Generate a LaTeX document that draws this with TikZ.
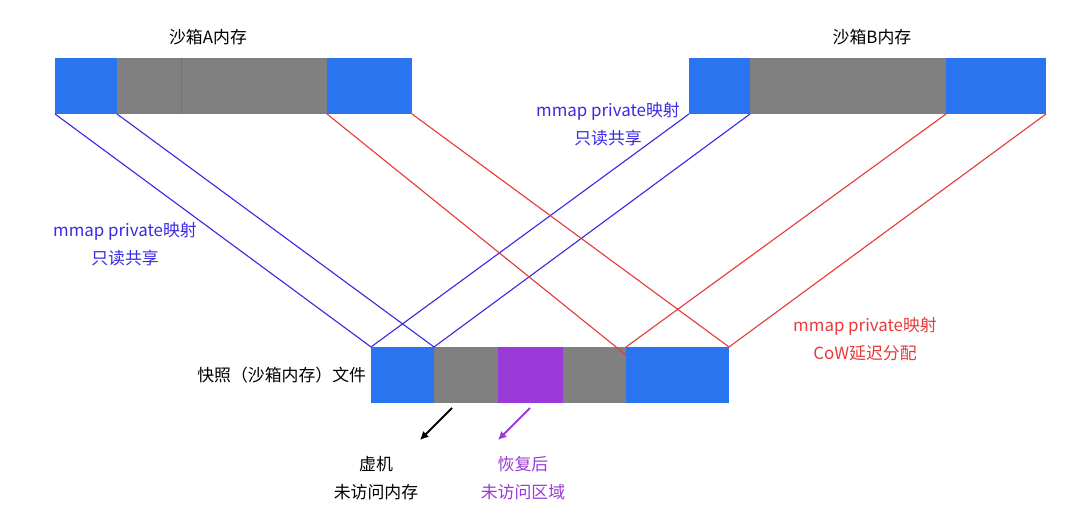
\documentclass[tikz,border=0pt]{standalone}
\usepackage{fontspec}
\setmainfont{Noto Sans CJK SC}
\usetikzlibrary{arrows.meta}
\definecolor{memblue}{HTML}{2A74F0}
\definecolor{memgray}{HTML}{808080}
\definecolor{mempurple}{HTML}{9A3AD8}
\definecolor{mapblue}{HTML}{3A2BE0}
\definecolor{mapred}{HTML}{E83A3A}
\tikzset{
  seg/.style={inner sep=0pt, outer sep=0pt, minimum height=1.4cm},
  lbl/.style={font=\fontsize{12}{20}\selectfont, align=center},
  map/.style={line width=0.8pt}
}
\newcommand{\seg}[5]{\node[seg, fill=#2, minimum width={(#4-#3)*0.025cm}, anchor=south west] (#1) at (#3,#5) {};}
\begin{document}
\begin{tikzpicture}[x=0.025cm,y=-0.025cm]
\useasboundingbox (0,0) rectangle (1080,523);
%%% sandbox A memory
\seg{a1}{memblue}{55}{117}{114}
\seg{a2}{memgray}{117}{327}{114}
\seg{a3}{memblue}{327}{412}{114}
\draw[memblue!70!memgray, line width=0.4pt] (181,58) -- (181,114);
\node[lbl] (ta) at (208,37) {沙箱A内存};
%%% sandbox B memory
\seg{b1}{memblue}{689}{750}{114}
\seg{b2}{memgray}{750}{946}{114}
\seg{b3}{memblue}{946}{1046}{114}
\node[lbl] (tb) at (872,37) {沙箱B内存};
%%% snapshot file
\seg{s1}{memblue}{371}{434}{403}
\seg{s2}{memgray}{434}{498}{403}
\seg{s3}{mempurple}{498}{563}{403}
\seg{s4}{memgray}{563}{626}{403}
\seg{s5}{memblue}{626}{729}{403}
\node[lbl, anchor=east] (ts) at (s1.west) {快照（沙箱内存）文件};
% mappings
\draw[map, mapblue] (a1.south west) -- (s1.north west);
\draw[map, mapblue] (a2.south west) -- (s2.north west);
\draw[map, mapblue] (b1.south west) -- (s1.north west);
\draw[map, mapblue] (b2.south west) -- (s2.north west);
\draw[map, mapred] (a3.south west) -- ([yshift=-0.2cm]s5.north west);
\draw[map, mapred] (a3.south east) -- (s5.north east);
\draw[map, mapred] (b3.south west) -- (s5.north west);
\draw[map, mapred] (b3.south east) -- (s5.north east);
% labels
\node[lbl, text=mapblue] (ml1) at (608,124) {mmap private映射\\只读共享};
\node[lbl, text=mapblue] (ml2) at (125,244) {mmap private映射\\只读共享};
\node[lbl, text=mapred] (ml3) at (865,339) {mmap private映射\\CoW延迟分配};
% unvisited regions
\coordinate (va) at (452,408);
\coordinate (pa) at (530,408);
\node[lbl] (vm) at (376,478) {虚机\\未访问内存};
\node[lbl, text=mempurple] (rs) at (523,478) {恢复后\\未访问区域};
\draw[-{Latex[length=6pt,width=6pt]}, line width=1.4pt] (va) -- (420,440);
\draw[-{Latex[length=6pt,width=6pt]}, line width=1.4pt, mempurple] (pa) -- (498,440);
\end{tikzpicture}
\end{document}
